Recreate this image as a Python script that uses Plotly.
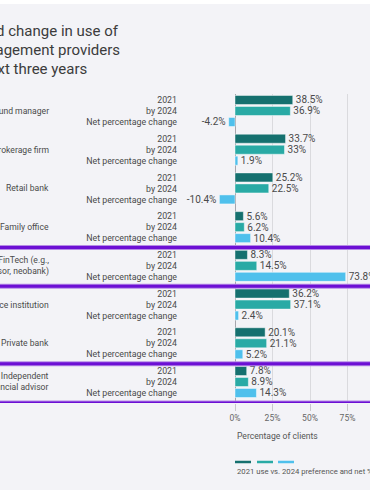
import plotly.graph_objects as go

# ---------------- data ----------------
groups = [
    "Fund manager",
    "Brokerage firm",
    "Retail bank",
    "Family office",
    "FinTech (e.g.,<br>robo-advisor, neobank)",
    "Full-service institution",
    "Private bank",
    "Independent<br>financial advisor",
]
row_labels = ["2021", "by 2024", "Net percentage change"]
use_2021 = [38.5, 33.7, 25.2, 5.6, 8.3, 36.2, 20.1, 7.8]
pref_2024 = [36.9, 33.0, 22.5, 6.2, 14.5, 37.1, 21.1, 8.9]
net_change = [-4.2, 1.9, -10.4, 10.4, 73.8, 2.4, 5.2, 14.3]
x_ticks = [0, 25, 50, 75]
x_tick_labels = ["0%", "25%", "50%", "75%"]
title_lines = ["Expected change in use of", "wealth management providers", "over the next three years"]
legend_text = "2021 use vs. 2024 preference and net % change"
axis_title = "Percentage of clients"
separators_after = [3, 4, 6, 7]  # purple lines after these groups

# ---------------- style ----------------
FONT = "Roboto, Lato, sans-serif"
BG = "#f3f3f7"
C1, C2, C3 = "#15706f", "#29aaa5", "#4fc0ec"
PURPLE = "#6c0fd4"
TXT = "#4a4a4a"
W, H = 370, 490
L, R, T, B = 184, 0, 94, 87
G = 3.52  # group pitch in row units
plot_w = W - L - R
plot_h = H - T - B
x_range = [-34, 90]
y_top, y_bot = -0.545, 7 * G + 2 + 0.91


def px_x(p):
    return (p - L) / plot_w


def px_y(p):
    return (H - B - p) / plot_h


def fmt(v):
    return f"{v:g}%"


fig = go.Figure()
series = [(use_2021, 0, C1), (pref_2024, 1, C2), (net_change, 2, C3)]
for vals, r, col in series:
    fig.add_trace(go.Bar(
        x=vals,
        y=[g * G + r for g in range(len(groups))],
        orientation="h",
        width=0.82,
        marker=dict(color=col, line=dict(color="rgba(255,255,255,0.45)", width=1)),
        text=[fmt(v) for v in vals],
        textposition="outside",
        textfont=dict(family=FONT, size=10, color=TXT),
        cliponaxis=False,
        constraintext="none",
        hoverinfo="skip",
        showlegend=False,
    ))

tickvals, ticktext = [], []
for g in range(len(groups)):
    for r, lab in enumerate(row_labels):
        tickvals.append(g * G + r)
        ticktext.append(lab)

shapes = []
# white strip on top
shapes.append(dict(type="rect", xref="paper", yref="paper", x0=px_x(0), x1=px_x(W),
                   y0=px_y(4), y1=px_y(0), fillcolor="white", line=dict(width=0), layer="below"))
# purple separators
for g in separators_after:
    if g == len(groups) - 1:
        yv = y_bot
    else:
        yv = g * G + 2 + (G - 2) / 2 + 0.1
    shapes.append(dict(type="line", xref="paper", yref="y", x0=px_x(0), x1=px_x(W), y0=yv, y1=yv,
                       line=dict(color="#b58ae6", width=5)))
    shapes.append(dict(type="line", xref="paper", yref="y", x0=px_x(0), x1=px_x(W), y0=yv, y1=yv,
                       line=dict(color=PURPLE, width=3)))
# legend line samples
for (x0, x1), col in zip([(235, 251), (257, 273), (278, 294)], [C1, C2, C3]):
    shapes.append(dict(type="line", xref="paper", yref="paper", x0=px_x(x0), x1=px_x(x1),
                       y0=px_y(462), y1=px_y(462), line=dict(color=col, width=2.5)))

annotations = []
# title lines (right ends measured, left part runs off the canvas)
for txt, xe, yc in zip(title_lines, [121, 122, 89], [31, 50, 69]):
    annotations.append(dict(text=txt, xref="paper", yref="paper", x=px_x(xe), y=px_y(yc),
                            xanchor="right", yanchor="middle", showarrow=False,
                            font=dict(family=FONT, size=15, color="#3c3c3c")))
# group labels
for g, name in enumerate(groups):
    annotations.append(dict(text=name, xref="paper", yref="y", x=px_x(51), y=g * G + 1,
                            xanchor="right", yanchor="middle", align="right", showarrow=False,
                            font=dict(family=FONT, size=8.6, color=TXT)))
annotations.append(dict(text=axis_title, xref="paper", yref="paper", x=px_x(235), y=px_y(436),
                        xanchor="left", yanchor="middle", showarrow=False,
                        font=dict(family=FONT, size=8.6, color="#555555")))
annotations.append(dict(text=legend_text, xref="paper", yref="paper", x=px_x(235), y=px_y(471),
                        xanchor="left", yanchor="middle", showarrow=False,
                        font=dict(family=FONT, size=7.7, color="#555555")))

fig.update_layout(
    width=W, height=H,
    margin=dict(l=L, r=R, t=T, b=B, pad=0),
    paper_bgcolor=BG, plot_bgcolor=BG,
    barmode="overlay",
    font=dict(family=FONT, size=10, color=TXT),
    xaxis=dict(range=x_range, tickvals=x_ticks, ticktext=x_tick_labels,
               showgrid=True, gridcolor="#dadade", gridwidth=1,
               zeroline=True, zerolinecolor="#a6a6ad", zerolinewidth=1,
               ticks="outside", ticklen=7, tickcolor="#c8c8cc",
               tickfont=dict(family=FONT, size=8.5, color="#666666"),
               showline=False, fixedrange=True),
    yaxis=dict(range=[y_bot, y_top], tickvals=tickvals, ticktext=ticktext,
               showgrid=False, zeroline=False, showline=False, ticks="",
               ticklabelstandoff=6,
               tickfont=dict(family=FONT, size=8.8, color=TXT), fixedrange=True),
    shapes=shapes,
    annotations=annotations,
)

fig.write_html(
    "out.html",
    config={"displayModeBar": False},
    post_script="document.body.style.margin='0';document.body.style.overflow='hidden';",
)
